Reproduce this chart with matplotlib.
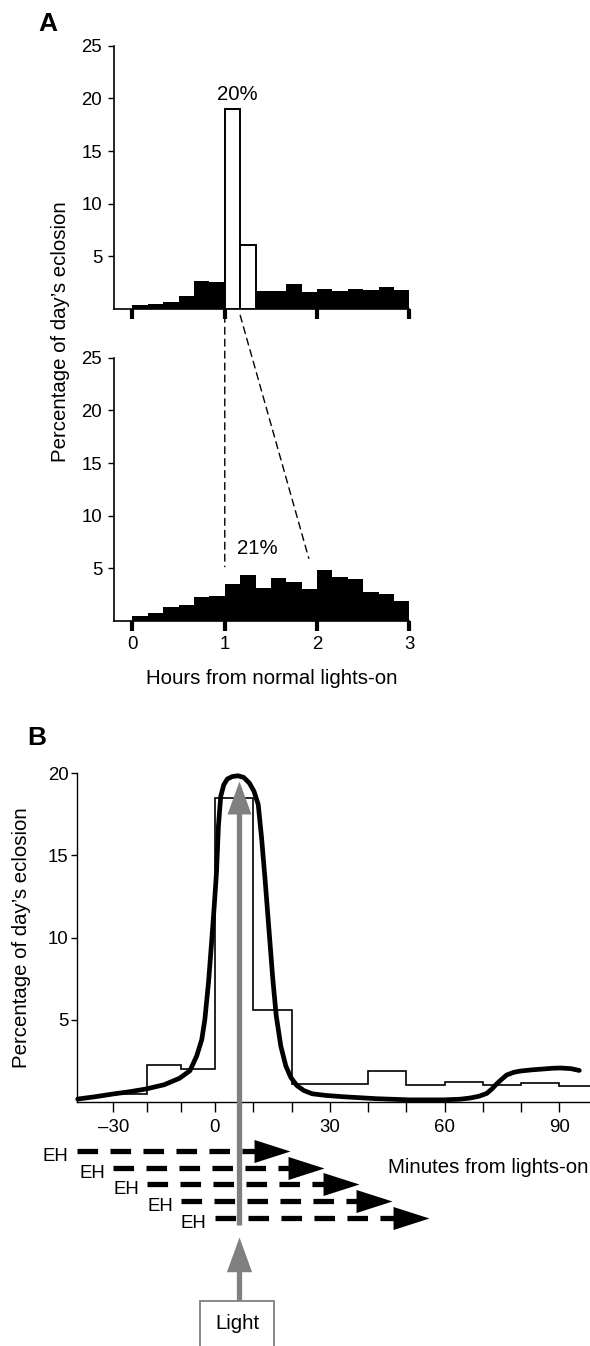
import numpy as np
import matplotlib.pyplot as plt
from matplotlib.patches import Rectangle, ConnectionPatch

plt.rcParams['font.family'] = ['Liberation Sans', 'DejaVu Sans']

W, H = 590, 1346

# Panel A: 10-min bins over the first 3 h after lights-on
bin_hours = np.arange(18) / 6
normal_pct = [0.35, 0.45, 0.65, 1.2, 2.7, 2.55, 19.0, 6.1, 1.67, 1.74,
              2.37, 1.64, 1.86, 1.71, 1.93, 1.8, 2.05, 1.8]
normal_open = [6, 7]
normal_note = '20%'
shifted_pct = [0.51, 0.73, 1.3, 1.52, 2.25, 2.41, 3.51, 4.37, 3.17, 4.08,
               3.73, 3.01, 4.84, 4.15, 3.96, 2.78, 2.53, 1.93]
shifted_note = '21%'

# Panel B
b_edges = [-30, -20, -10, 0, 10, 20, 40, 50, 60, 70, 80, 90, 98]
b_hist = [0.5, 2.25, 2.0, 18.5, 5.6, 1.1, 1.87, 1.03, 1.23, 1.03, 1.17, 0.97]
curve_min = [-40.5, -35, -30, -25, -20.4, -15, -10.5, -7.4, -5.4, -3.9, -3.0,
             -1.9, -0.9, -0.2, 0.4, 0.9, 1.5, 2.3, 3.2, 4.5, 6.0, 7.5, 9.0,
             10.2, 11.3, 12.2, 13.1, 14.3, 15.1, 16.0, 17.2, 18.5, 19.8, 21.4,
             23.2, 25.4, 29, 33.5, 42.3, 51, 59.7, 64, 66.6, 69, 71, 72.4, 73.6,
             75, 76.2, 78, 79.7, 82.5, 85.8, 88, 90.2, 93, 95.2]
curve_pct = [0.18, 0.33, 0.49, 0.63, 0.79, 1.05, 1.44, 1.9, 2.8, 3.8, 5.0,
             7.3, 10.0, 12.0, 14.0, 16.8, 18.6, 19.3, 19.65, 19.8, 19.85, 19.75,
             19.4, 18.9, 18.1, 16.0, 13.5, 9.9, 7.5, 5.25, 3.4, 2.2, 1.5, 1.0,
             0.7, 0.5, 0.4, 0.32, 0.2, 0.13, 0.13, 0.17, 0.24, 0.35, 0.52, 0.8,
             1.1, 1.4, 1.64, 1.8, 1.88, 1.95, 2.01, 2.05, 2.07, 2.03, 1.92]
eh_start = [-40.7, -30, -20, -10, 0]
eh_end = [19.7, 28.5, 37.6, 46.3, 55.8]
eh_row = [-3, -4, -5, -6, -7.05]
light_min = 6.4

gray = '#808080'
tick_fs = 13.4
lab_fs = 14.7


def fx(x):
    return x / W


def fy(y):
    return 1 - y / H


fig = plt.figure(figsize=(W / 100, H / 100), dpi=100)

# ---------------- panel A ----------------
axA1 = fig.add_axes([fx(114), fy(309), 295.4 / W, 263.3 / H])
axA2 = fig.add_axes([fx(114), fy(621), 295.4 / W, 263.3 / H])

for ax, vals in [(axA1, normal_pct), (axA2, shifted_pct)]:
    for i, (h, v) in enumerate(zip(bin_hours, vals)):
        if ax is axA1 and i in normal_open:
            ax.bar(h, v, width=1 / 6, align='edge', color='white',
                   edgecolor='black', linewidth=1.4, zorder=3)
        else:
            ax.bar(h, v, width=1 / 6, align='edge', color='black',
                   linewidth=0, zorder=2)
    ax.set_xlim(-0.2, 3.0)
    ax.set_ylim(0, 25)
    ax.spines[['top', 'right']].set_visible(False)
    ax.spines[['left', 'bottom']].set_linewidth(1.2)
    ax.set_yticks([5, 10, 15, 20, 25])
    ax.set_xticks([0, 1, 2, 3])
    ax.tick_params(axis='y', length=4.5, width=1.0, pad=4, labelsize=tick_fs)
    ax.tick_params(axis='x', length=7, width=3, pad=4, labelsize=tick_fs)
    ax.patch.set_alpha(0)

axA1.set_xticklabels([])
axA1.text(1.14, 20.4, normal_note, ha='center', va='center', fontsize=lab_fs)
axA2.text(1.35, 6.9, shifted_note, ha='center', va='center', fontsize=lab_fs)

for xa, xb, yb in [(1.0, 1.0, 5.16), (1.167, 1.91, 5.95)]:
    con = ConnectionPatch(xyA=(xa, -0.6), coordsA=axA1.transData,
                          xyB=(xb, yb), coordsB=axA2.transData,
                          linestyle=(0, (5, 3.6)), linewidth=1.0, color='black')
    fig.add_artist(con)

fig.text(fx(60), fy(332), 'Percentage of day\u2019s eclosion', rotation=90,
         ha='center', va='center', fontsize=lab_fs)
fig.text(fx(272), fy(684), 'Hours from normal lights-on', ha='center',
         va='baseline', fontsize=lab_fs)
fig.text(fx(38), fy(31), 'A', fontsize=19, fontweight='bold', va='baseline')

# ---------------- panel B ----------------
axB = fig.add_axes([fx(77), fy(1102), (590 - 77) / W, (1102 - 773.3) / H])
k = 3.39 / 3.826  # the negative side of the time axis is drawn compressed
axB.set_xscale('function', functions=(lambda m: np.where(m < 0, m * k, m),
                                      lambda t: np.where(t < 0, t / k, t)))
axB.set_xlim(-40.7, 98)
axB.set_ylim(0, 20)

axB.stairs(b_hist, b_edges, baseline=None, color='black', linewidth=1.2,
           zorder=2)

# light arrow (pointing at the peak)
axB.plot([light_min, light_min], [-7.5, 17.8], color=gray, lw=3.8,
         solid_capstyle='butt', clip_on=False, zorder=4)
up_head = [(-0.727, -2), (0, 0), (0.727, -2), (-0.727, -2)]
axB.plot([light_min], [19.55], marker=up_head, ms=47.5, color=gray, mew=0,
         clip_on=False, zorder=4)

axB.plot(curve_min, curve_pct, color='black', lw=3.4, solid_joinstyle='round',
         solid_capstyle='round', clip_on=False, zorder=5)

# eclosion-hormone arrows
right_head = [(-2, -0.64), (0, 0), (-2, 0.64), (-2, -0.64)]
for s, e, r in zip(eh_start, eh_end, eh_row):
    axB.plot([s, e - 7], [r, r], color='black', lw=3.8,
             linestyle=(0, (3.9, 2.35)), dash_capstyle='butt',
             clip_on=False, zorder=3)
    axB.plot([e], [r], marker=right_head, ms=51.8, color='black', mew=0,
             clip_on=False, zorder=3)
    axB.annotate('EH', xy=(s, r), xytext=(-6, -7.2), textcoords='offset points',
                 ha='right', va='baseline', fontsize=tick_fs,
                 annotation_clip=False)

# second light arrow from the box
axB.plot([light_min, light_min], [-12.1, -9.9], color=gray, lw=3.8,
         solid_capstyle='butt', clip_on=False, zorder=4)
axB.plot([light_min], [-8.2], marker=up_head, ms=50, color=gray, mew=0,
         clip_on=False, zorder=4)

fig.add_artist(Rectangle((fx(200), fy(1352)), 74 / W, 51 / H,
                         transform=fig.transFigure, facecolor='white',
                         edgecolor=gray, linewidth=1.3))
fig.text(fx(237), fy(1329), 'Light', ha='center', va='baseline',
         fontsize=lab_fs)

axB.spines[['top', 'right']].set_visible(False)
axB.spines[['left', 'bottom']].set_linewidth(1.0)
axB.set_yticks([5, 10, 15, 20])
ticks_b = np.arange(-30, 91, 10)
axB.set_xticks(ticks_b)
axB.set_xticklabels(['\u201330' if t == -30 else (str(t) if t % 30 == 0 else '')
                     for t in ticks_b])
axB.tick_params(axis='y', length=4, width=1.0, pad=2, labelsize=tick_fs)
axB.tick_params(axis='x', length=7, width=1.0, pad=5, labelsize=tick_fs)
axB.patch.set_alpha(0)

fig.text(fx(22), fy(937.5), 'Percentage of day\u2019s eclosion', rotation=90,
         ha='center', va='center', fontsize=lab_fs)
fig.text(fx(588), fy(1173), 'Minutes from lights-on', ha='right',
         va='baseline', fontsize=lab_fs)
fig.text(fx(27), fy(745), 'B', fontsize=19, fontweight='bold', va='baseline')

fig.savefig('out.png', dpi=100)
